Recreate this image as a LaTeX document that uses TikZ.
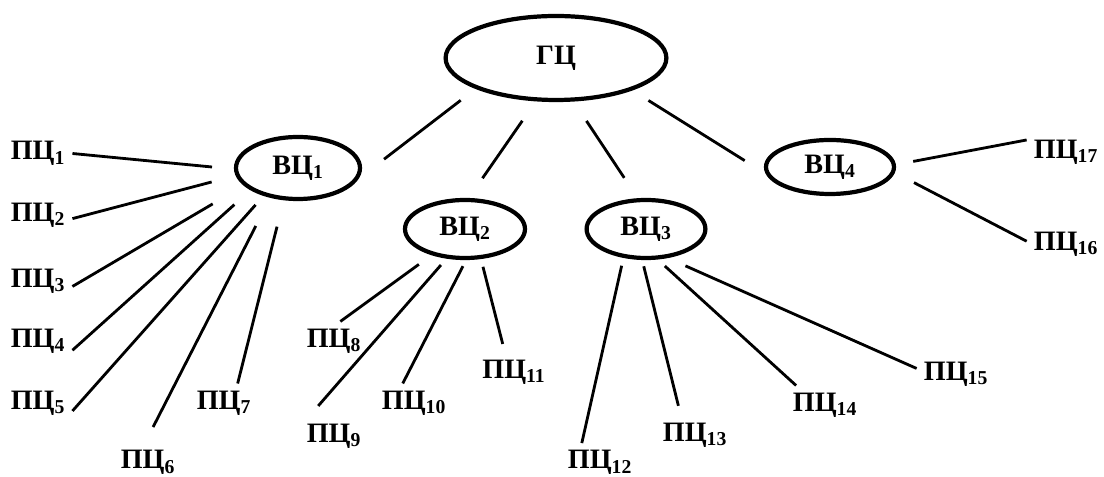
\documentclass[tikz,border=0pt]{standalone}
\usepackage{fontspec}
\setmainfont{Liberation Serif}
\usetikzlibrary{shapes.geometric}

\tikzstyle{centre}=[ellipse, draw, line width=3pt, inner sep=0pt, font=\bfseries\fontsize{20}{24}\selectfont]
\tikzstyle{pc}=[inner sep=5pt, font=\bfseries\fontsize{20}{24}\selectfont]
\tikzstyle{link}=[line width=2pt]

\begin{document}
\begin{tikzpicture}
    \useasboundingbox (0,0) rectangle (27.6,11.925);

    % Главный центр
    \node[centre, minimum width=5.52cm, minimum height=2.1cm] (gc) at (13.9,10.475) {ГЦ};

    % Вычислительные центры
    \node[centre, minimum width=3.1cm, minimum height=1.55cm] (v1) at (7.45,7.725) {ВЦ\textsubscript{1}};
    \node[centre, minimum width=3cm, minimum height=1.45cm] (v2) at (11.625,6.2) {ВЦ\textsubscript{2}};
    \node[centre, minimum width=2.97cm, minimum height=1.45cm] (v3) at (16.15,6.2) {ВЦ\textsubscript{3}};
    \node[centre, minimum width=3.2cm, minimum height=1.35cm] (v4) at (20.75,7.75) {ВЦ\textsubscript{4}};

    % Периферийные центры
    \foreach \i/\x/\y in {1/0.95/8.0875, 2/0.95/6.55, 3/0.95/4.9, 4/0.95/3.4, 5/0.95/1.85,
                          6/3.7/0.36, 7/5.6/1.85, 8/8.35/3.4, 9/8.35/1.025, 10/10.35/1.85,
                          11/12.85/2.625, 12/15/0.36, 13/17.375/1.05, 14/20.625/1.8,
                          15/23.9/2.575, 16/26.65/5.825, 17/26.65/8.125}
        \node[pc] (p\i) at (\x,\y) {ПЦ\textsubscript{\i}};

    % Связи ГЦ -- ВЦ
    \foreach \a/\b/\s/\t in {gc.201/v1.350/0.47/0.8, gc.245/v2.83/0.59/0.6,
                             gc.292/v3.105/0.58/0.61, gc.337/v4.186/0.475/0.62}
        \draw[link, shorten <=\s cm, shorten >=\t cm] (\a) -- (\b);

    % Связи ВЦ -- ПЦ
    \foreach \a/\b/\s/\t in {v1.181/p1.0/0.55/0, v1.187/p2.354/0.62/0, v1.198/p3.351/0.9/0,
                             v1.205/p4.345/0.54/0, v1.219/p5.347/0.3/0, v1.227/p6.99/0.79/0.45,
                             v1.246/p7.55/0.68/0,
                             v2.218/p8.72/0.39/0, v2.238/p9.142/0.21/0.35,
                             v2.272/p10.120/0.17/0, v2.298/p11.115/0.2/0.22,
                             v3.232/p12.133/0.2/0, v3.263/p13.126/0.16/0.25,
                             v3.291/p14.146/0.24/0, v3.307/p15.172/0.48/0,
                             v4.355/p16.176/0.54/0, v4.2/p17.163/0.44/0}
        \draw[link, shorten <=\s cm, shorten >=\t cm] (\a) -- (\b);
\end{tikzpicture}
\end{document}
